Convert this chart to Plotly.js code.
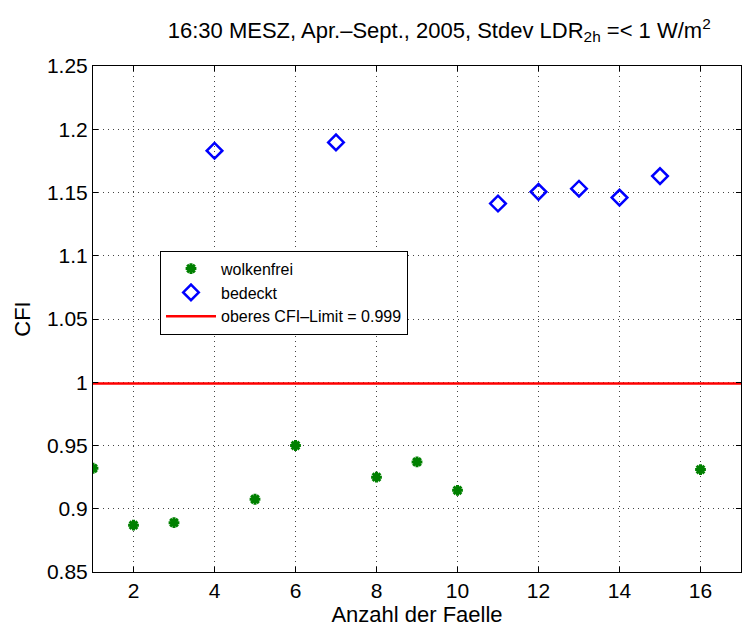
<!DOCTYPE html>
<html><head><meta charset="utf-8">
<script src="https://cdn.plot.ly/plotly-3.0.1.min.js"></script>
<style>body{margin:0;background:#fff}#c{width:742px;height:628px}</style>
</head><body><div id="c"></div>
<script>
const clearX = [1, 2, 3, 5, 6, 8, 9, 10, 16];
const clearY = [0.932, 0.887, 0.889, 0.9075, 0.950, 0.925, 0.937, 0.9146, 0.931];
const cloudX = [4, 7, 11, 12, 13, 14, 15];
const cloudY = [1.183, 1.1896, 1.1413, 1.1505, 1.153, 1.146, 1.163];
const limitX = [1, 17];
const limitY = [0.999, 0.999];
const xTicks = [2, 4, 6, 8, 10, 12, 14, 16];
const yTicks = [0.85, 0.9, 0.95, 1, 1.05, 1.1, 1.15, 1.2, 1.25];
const yTickText = ['0.85', '0.9', '0.95', '1', '1.05', '1.1', '1.15', '1.2', '1.25'];

const font = 'Liberation Sans, Arial, Helvetica, sans-serif';
const traces = [
  {x: clearX, y: clearY, mode: 'markers', name: 'wolkenfrei',
   marker: {symbol: 'asterisk-open', size: 9, color: '#008000', line: {color: '#008000', width: 3}}},
  {x: cloudX, y: cloudY, mode: 'markers', name: 'bedeckt',
   marker: {symbol: 'diamond-open', size: 12, color: '#0000ff', line: {color: '#0000ff', width: 2.5}}},
  {x: limitX, y: limitY, mode: 'lines', name: 'oberes CFI\u2013Limit = 0.999',
   line: {color: '#ff0000', width: 2.5}}
];
const axisCommon = {
  showline: true, linecolor: '#000', linewidth: 1, mirror: 'allticks',
  ticks: 'inside', ticklen: 5, tickcolor: '#000',
  showgrid: true, gridcolor: '#444', griddash: '1px,4px', gridwidth: 1,
  zeroline: false, tickfont: {family: font, size: 21, color: '#000'}
};
const layout = {
  width: 742, height: 628,
  margin: {l: 93, r: 1, t: 66, b: 56},
  paper_bgcolor: '#fff', plot_bgcolor: '#fff',
  font: {family: font, color: '#000'},
  title: {text: '16:30 MESZ, Apr.\u2013Sept., 2005, Stdev LDR<sub>2h</sub> =&lt; 1 W/m<sup>2</sup>',
          font: {family: font, size: 22, color: '#000'}, x: 0.592, xanchor: 'center', y: 0.952, yanchor: 'middle'},
  xaxis: Object.assign({}, axisCommon, {range: [1, 17], tickvals: xTicks,
    title: {text: 'Anzahl der Faelle', font: {family: font, size: 22, color: '#000'}, standoff: 2}}),
  yaxis: Object.assign({}, axisCommon, {range: [0.85, 1.25], tickvals: yTicks, ticktext: yTickText,
    title: {text: 'CFI', font: {family: font, size: 22, color: '#000'}, standoff: 10}}),
  showlegend: true,
  legend: {x: 0.1034, y: 0.635, xanchor: 'left', yanchor: 'top', bgcolor: '#fff',
    bordercolor: '#000', borderwidth: 1, font: {family: font, size: 16, color: '#000'},
    tracegroupgap: 0, itemwidth: 50}
};
Plotly.newPlot('c', traces, layout, {displayModeBar: false, staticPlot: true});
</script></body></html>
